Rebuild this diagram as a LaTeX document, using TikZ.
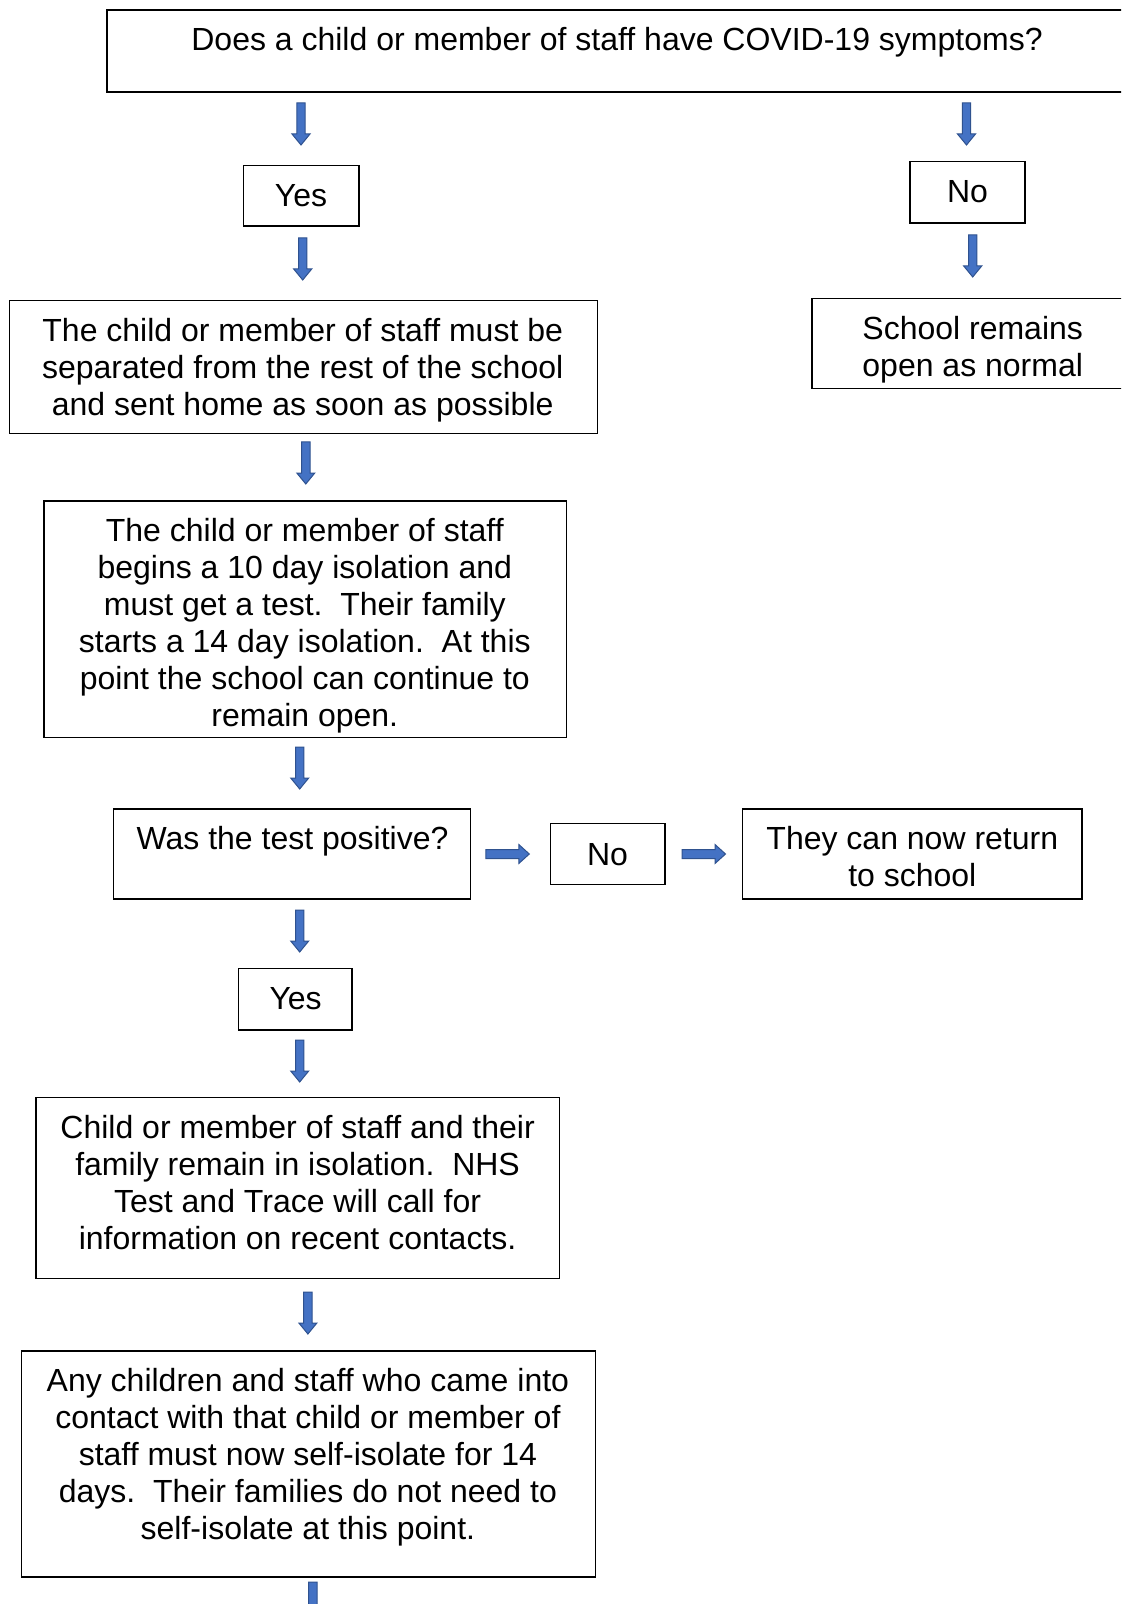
\documentclass[tikz,border=0pt]{standalone}
\usepackage{fontspec}
\setmainfont{Liberation Sans}
\usetikzlibrary{fit}
\definecolor{arrowblue}{HTML}{4472C4}
\definecolor{arrowedge}{HTML}{2F528F}
\tikzset{
  box/.style={draw=black, line width=0.7pt, inner sep=0pt, rectangle},
  txt/.style={inner sep=0pt, align=center, font=\fontsize{16pt}{18.5pt}\selectfont},
  blk/.style={fill=arrowblue, draw=arrowedge, line width=0.5pt},
  darr/.pic={\path[blk] (-4.2,0) -- (4.2,0) -- (4.2,31) -- (9,31) -- (0,42) -- (-9,31) -- (-4.2,31) -- cycle;},
  rarr/.pic={\path[blk] (0,-4.5) -- (33,-4.5) -- (33,-9.5) -- (43.5,0) -- (33,9.5) -- (33,4.5) -- (0,4.5) -- cycle;}
}
\begin{document}
\begin{tikzpicture}[x=0.5pt, y=-0.5pt]
\useasboundingbox (0,0) rectangle (1121,1604);
\clip (0,0) rectangle (1121,1604);
\fill[white] (0,0) rectangle (1121,1604);
% boxes
\node[box, fit={(107,10) (1200,92)}] (b1) {};
\node[box, fit={(243.4,165.7) (359,226)}] (byes1) {};
\node[box, fit={(910,161.6) (1025,223)}] (bno1) {};
\node[box, fit={(9.2,300.7) (597.3,433.7)}] (b3) {};
\node[box, fit={(812,298.7) (1200,388.7)}] (b4) {};
\node[box, fit={(44,501) (566.6,737.4)}] (b5) {};
\node[box, fit={(113.5,809) (470.5,899)}] (b6) {};
\node[box, fit={(550.3,823.3) (664.8,884.7)}] (bno2) {};
\node[box, fit={(742.5,809) (1082,899)}] (b7) {};
\node[box, fit={(238.3,968.6) (351.8,1030)}] (byes2) {};
\node[box, fit={(35.8,1097.5) (559.5,1278.5)}] (b8) {};
\node[box, fit={(21.5,1351) (595.3,1577)}] (b9) {};
% texts
\node[txt] (t1) at (617,42) {Does a child or member of staff have COVID-19 symptoms?};
\node[txt] (tyes1) at (301,196) {Yes};
\node[txt] (tno1) at (967.5,192) {No};
\node[txt] (t3) at (302.7,370.6) {The child or member of staff must be\\separated from the rest of the school\\and sent home as soon as possible};
\node[txt] (t4) at (972.7,349.3) {School remains\\open as normal};
\node[txt] (t5) at (304.8,625.4) {The child or member of staff\\begins a 10 day isolation and\\must get a test.\ \ Their family\\starts a 14 day isolation.\ \ At this\\point the school can continue to\\remain open.};
\node[txt] (t6) at (292.5,841.7) {Was the test positive?};
\node[txt] (tno2) at (607.5,855) {No};
\node[txt] (t7) at (912.3,857) {They can now return\\to school};
\node[txt] (tyes2) at (295.6,998.2) {Yes};
\node[txt] (t8) at (297.6,1182.3) {Child or member of staff and their\\family remain in isolation.\ \ NHS\\Test and Trace will call for\\information on recent contacts.};
\node[txt] (t9) at (307.9,1457.4) {Any children and staff who came into\\contact with that child or member of\\staff must now self-isolate for 14\\days.\ \ Their families do not need to\\self-isolate at this point.};
% arrows
\pic (a1) at (301,103) {darr};
\pic (a2) at (966.5,103) {darr};
\pic (a3) at (302.7,238) {darr};
\pic (a4) at (972.7,235) {darr};
\pic (a5) at (305.8,442) {darr};
\pic (a6) at (299.7,747) {darr};
\pic (r1) at (485.8,854) {rarr};
\pic (r2) at (682,854) {rarr};
\pic (a7) at (299.7,910) {darr};
\pic (a8) at (299.7,1040) {darr};
\pic (a9) at (307.9,1292) {darr};
\pic (a10) at (312.8,1582) {darr};
\end{tikzpicture}
\end{document}
